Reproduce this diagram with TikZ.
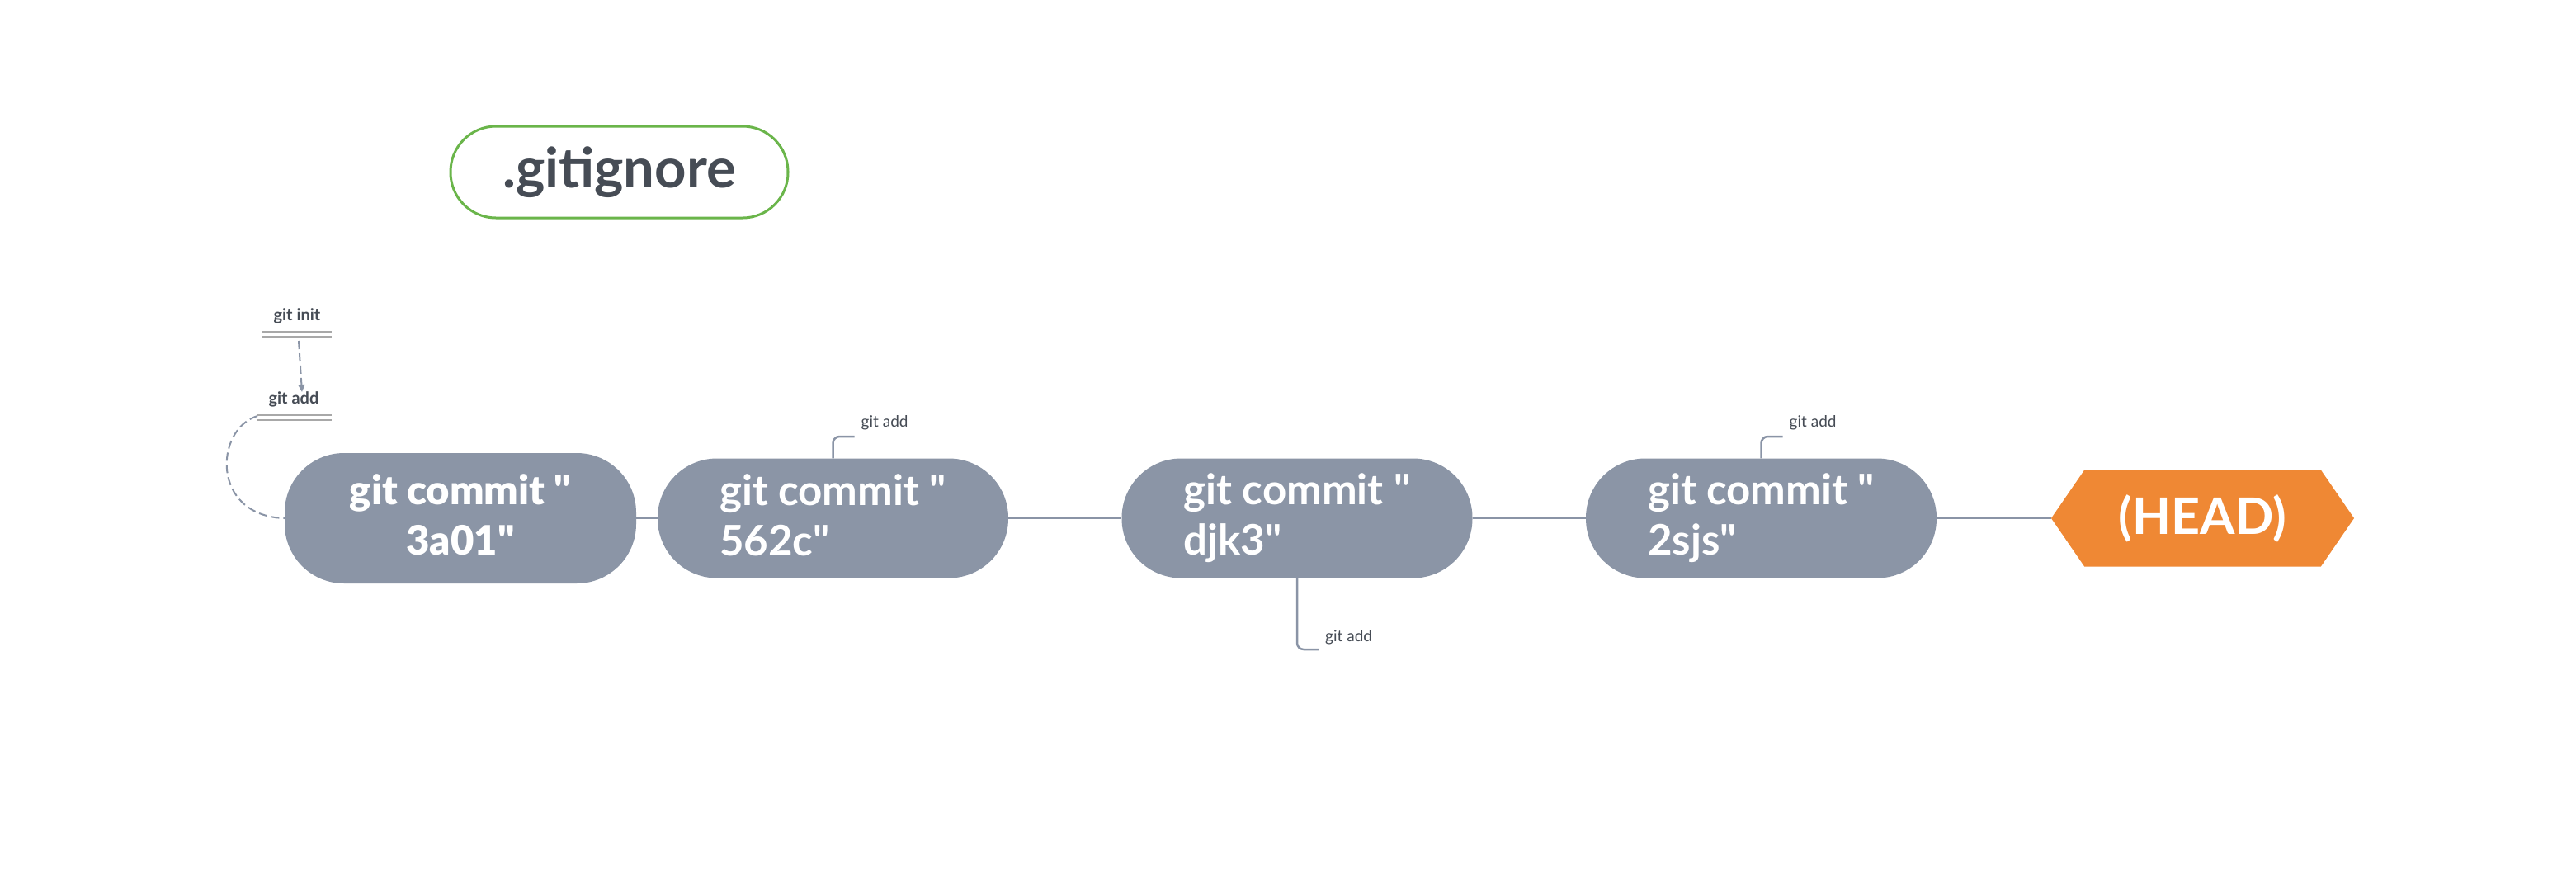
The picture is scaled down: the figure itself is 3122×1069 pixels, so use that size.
\documentclass[tikz,border=0pt]{standalone}
\usepackage{fontspec}
\setmainfont{Lato}[Ligatures=TeXOff]
\IfFontExistsTF{Lato Black}{\newfontfamily\heavyfont{Lato Black}[Ligatures=TeXOff]}{\newcommand\heavyfont{\bfseries}}
\usetikzlibrary{shapes.symbols,arrows.meta}
\definecolor{cgray}{HTML}{8B95A6}
\definecolor{lgray}{HTML}{8A94A6}
\definecolor{dgray}{HTML}{464C55}
\definecolor{barg}{HTML}{A8A8A8}
\definecolor{horange}{HTML}{EF8834}
\definecolor{ggreen}{HTML}{6AB54A}
\begin{document}
\begin{tikzpicture}[x=1pt,y=-1pt,
  commit/.style={rectangle, rounded corners=72pt, fill=cgray, text=white,
    minimum width=425pt, minimum height=145pt, inner sep=0pt,
    font=\bfseries\fontsize{51}{61}\selectfont},
  firstcommit/.style={commit, minimum width=426pt, minimum height=158pt, align=center,
    font=\heavyfont\fontsize{49}{61}\selectfont},
  laterc/.style={commit, align=left},
  conn/.style={draw=lgray, line width=2.5pt},
  addtick/.style={draw=lgray, line width=2.5pt, rounded corners=8pt},
  smalllabel/.style={text=dgray, font=\fontsize{19}{22}\selectfont, inner sep=0pt, anchor=base west},
  boldlabel/.style={text=dgray, font=\bfseries\fontsize{20}{24}\selectfont, inner sep=0pt, anchor=base},
  dblbar/.style={draw=barg, line width=2pt},
  dashlink/.style={draw=lgray, line width=2pt, dash pattern=on 10pt off 5pt},
  ignorebox/.style={rectangle, rounded corners=55pt, draw=ggreen, line width=3pt,
    minimum width=409pt, minimum height=111pt, inner sep=0pt, text=dgray,
    font=\bfseries\fontsize{67}{72}\selectfont},
  headbox/.style={signal, signal to=east and west, signal pointer angle=111,
    fill=horange, text=white, minimum width=367pt, minimum height=117pt, inner sep=0pt,
    font=\bfseries\fontsize{61}{66}\selectfont}
]
\fill[white] (0,0) rectangle (3122,1069);
\useasboundingbox (0,0) rectangle (3122,1069);

% .gitignore
\node[ignorebox] (gi) at (750.5,208.5) {.gitignore};

% commits
\node[firstcommit] (c1) at (558,628) {git commit "\\3a01"\rule[-8pt]{0pt}{8pt}};
\node[laterc] (c2) at (1009.5,628) {git commit "\\562c"\rule[-8pt]{0pt}{8pt}};
\node[laterc] (c3) at (1572,628) {git commit "\\djk3"\rule[-8pt]{0pt}{8pt}};
\node[laterc] (c4) at (2134.5,628) {git commit "\\2sjs"\rule[-8pt]{0pt}{8pt}};
\node[headbox] (head) at (2669.5,628) {(HEAD)};

\draw[conn] (c1.east) -- (c2.west);
\draw[conn] (c2.east) -- (c3.west);
\draw[conn] (c3.east) -- (c4.west);
\draw[conn] (c4.east) -- (head.west);

% git add ticks
\node[smalllabel] (l2) at (1043.5,517) {git add};
\coordinate (t2) at (1035.5,529);
\draw[addtick] (c2.north) |- (t2);

\node[smalllabel] (l3) at (1606,777) {git add};
\coordinate (t3) at (1598,787);
\draw[addtick] (c3.south) |- (t3);

\node[smalllabel] (l4) at (2168.5,517) {git add};
\coordinate (t4) at (2160.5,529);
\draw[addtick] (c4.north) |- (t4);

% git init / git add
\node[boldlabel] (ginit) at (360,388) {git init};
\draw[dblbar] (318,402) -- (402,402) (318,408) -- (402,408);
\node[boldlabel] (gadd) at (356,489) {git add};
\draw[dblbar] (312,503) -- (402,503) (312,509) -- (402,509);

\coordinate (ia) at (362,413);
\coordinate (ib) at (366,475);
\draw[dashlink,-{Triangle[length=9pt,width=8pt]}] (ia) -- (ib);

\coordinate (cs) at (312,504);
\draw[dashlink] (cs) .. controls (260,520) and (255,625) .. (c1.west);
\end{tikzpicture}
\end{document}
